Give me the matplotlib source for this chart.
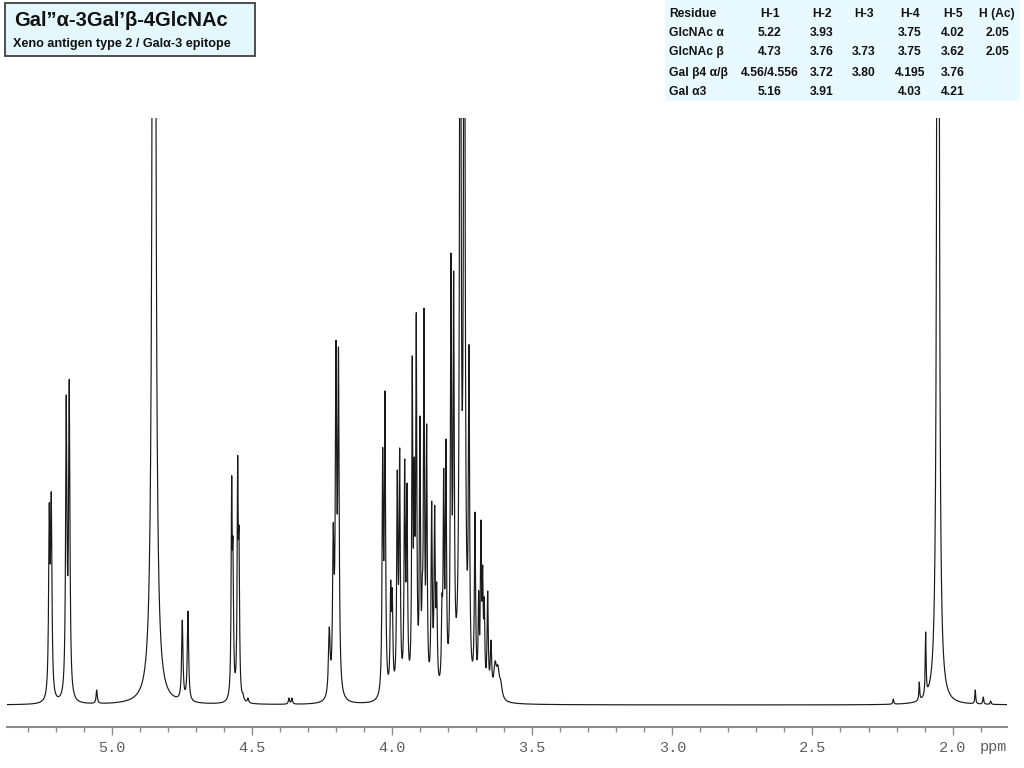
import numpy as np
import matplotlib

matplotlib.use('Agg')
import matplotlib.pyplot as plt
from matplotlib.patches import Rectangle
from matplotlib.ticker import MultipleLocator, FixedLocator

# --- peak list: position (ppm), height (px above baseline), half-width (ppm) ---
peak_ppm = [
    5.2226, 5.2155, 5.1620, 5.1513, 5.0535,
    4.8776, 4.8491, 4.8170,
    4.7481, 4.7278,
    4.5719, 4.5672, 4.5505, 4.5458, 4.5316, 4.5137,
    4.3675, 4.3568,
    4.2237, 4.2094, 4.1998, 4.1909, 4.1652,
    4.0332, 4.0250, 4.0046, 3.9989,
    3.9811, 3.9725, 3.9547, 3.9465,
    3.9276, 3.9204, 3.9133, 3.9001, 3.8919,
    3.8858, 3.8762, 3.8584, 3.8477, 3.8405,
    3.8216, 3.8156, 3.8074, 3.7895, 3.7799,
    3.7563, 3.7420, 3.7253, 3.7039,
    3.6907, 3.6825, 3.6764, 3.6707, 3.6586, 3.6468,
    3.6320, 3.6220, 3.6120,
    2.2115, 2.1188, 2.0960, 2.0520, 1.9190, 1.8905, 1.8641,
]
peak_height = [
    202, 213, 310, 326, 15,
    30, 2500, 12,
    85, 94,
    230, 168, 250, 178, 12, 7,
    7, 7,
    78, 182, 365, 358, 8,
    258, 314, 125, 117,
    236, 257, 246, 222,
    349, 248, 393, 289, 130,
    397, 281, 204, 200, 123,
    111, 238, 266, 452, 434,
    1000, 1000, 361, 193,
    115, 185, 140, 108, 114, 65,
    44, 40, 25,
    6, 23, 73, 2200, 15, 8, 4,
]
peak_width = [
    0.0028, 0.0028, 0.0028, 0.0028, 0.0025,
    0.0050, 0.0040, 0.0040,
    0.0028, 0.0028,
    0.0022, 0.0022, 0.0022, 0.0022, 0.0025, 0.0025,
    0.0025, 0.0025,
    0.0035, 0.0030, 0.0028, 0.0028, 0.0025,
    0.0025, 0.0025, 0.0025, 0.0025,
    0.0025, 0.0025, 0.0025, 0.0025,
    0.0022, 0.0022, 0.0022, 0.0022, 0.0022,
    0.0022, 0.0022, 0.0025, 0.0025, 0.0025,
    0.0025, 0.0022, 0.0022, 0.0025, 0.0025,
    0.0030, 0.0030, 0.0025, 0.0025,
    0.0022, 0.0022, 0.0022, 0.0022, 0.0025, 0.0030,
    0.0060, 0.0060, 0.0060,
    0.0020, 0.0018, 0.0018, 0.0030, 0.0018, 0.0020, 0.0020,
]

tick_values = [5.0, 4.5, 4.0, 3.5, 3.0, 2.5, 2.0]
tick_labels = ['5.0', '4.5', '4.0', '3.5', '3.0', '2.5', '2.0']

title_text = 'Gal\u201d\u03b1-3Gal\u2019\u03b2-4GlcNAc'
subtitle_text = 'Xeno antigen type 2 / Gal\u03b1-3 epitope'

table_header = ['Residue', 'H-1', 'H-2', 'H-3', 'H-4', 'H-5', 'H (Ac)']
table_rows = [
    ['GlcNAc \u03b1', '5.22', '3.93', '', '3.75', '4.02', '2.05'],
    ['GlcNAc \u03b2', '4.73', '3.76', '3.73', '3.75', '3.62', '2.05'],
    ['Gal \u03b24 \u03b1/\u03b2', '4.56/4.556', '3.72', '3.80', '4.195', '3.76', ''],
    ['Gal \u03b13', '5.16', '3.91', '', '4.03', '4.21', ''],
]

# --- build the trace: amplitudes chosen so each line tops out at its read height ---
pos = np.array(peak_ppm)
hgt = np.array(peak_height, dtype=float)
wid = np.array(peak_width)


def lorentz(x, p, w):
    return w ** 2 / (w ** 2 + (x - p) ** 2)


M = lorentz(pos[:, None], pos[None, :], wid[None, :])
amp = np.clip(np.linalg.solve(M, hgt), 0, None)

ppm = np.linspace(1.80, 5.38, 9000)
trace = (amp[None, :] * lorentz(ppm[:, None], pos[None, :], wid[None, :])).sum(axis=1)

# --- figure ---
W, H = 1024, 768
fig = plt.figure(figsize=(W / 100, H / 100), dpi=100)


def fx(px):
    return px / W


def fy(py):
    return 1 - py / H


ax_left, ax_right, ax_bottom, ax_top = 7, 1007, 726.7, 118
ax = fig.add_axes([fx(ax_left), fy(ax_bottom), fx(ax_right - ax_left), (ax_bottom - ax_top) / H])
ax.plot(ppm, trace, color='#1a1a1a', lw=0.85)
ax.set_xlim(5.3735, 1.8059)
ax.set_ylim(-21.7, 587)

for side in ['top', 'left', 'right']:
    ax.spines[side].set_visible(False)
ax.spines['bottom'].set_color('#8c8c8c')
ax.spines['bottom'].set_linewidth(1.5)
ax.set_yticks([])
ax.xaxis.set_major_locator(FixedLocator(tick_values))
ax.set_xticklabels(tick_labels)
ax.xaxis.set_minor_locator(MultipleLocator(0.1))
ax.tick_params(axis='x', which='major', direction='out', length=6, width=1, color='#8c8c8c',
               pad=4, labelsize=11, labelcolor='#606060')
ax.tick_params(axis='x', which='minor', direction='out', length=3.3, width=1, color='#8c8c8c')
for lab in ax.get_xticklabels():
    lab.set_family('Liberation Mono')

fig.text(fx(980), fy(747), 'ppm', family='Liberation Mono', fontsize=11, color='#606060',
         ha='left', va='center')

# title box
fig.patches.append(Rectangle((fx(5), fy(56)), fx(250), 53 / H, transform=fig.transFigure,
                             facecolor='#e3f7fd', edgecolor='#404040', lw=1.3))
fig.text(fx(14), fy(20), title_text, family='Liberation Sans', weight='bold', fontsize=14.5,
         color='#111111', ha='left', va='center')
fig.text(fx(13), fy(44), subtitle_text, family='Liberation Sans', weight='bold', fontsize=9.1,
         color='#111111', ha='left', va='center')

# shift table
fig.patches.append(Rectangle((fx(665), fy(101)), fx(355), 101 / H, transform=fig.transFigure,
                             facecolor='#e8faff', edgecolor='none'))
col_x = [669, 770, 822, 864, 910, 953, 997]
row_y = [14, 33, 52, 73, 92]
for j, txt in enumerate(table_header):
    fig.text(fx(col_x[j]), fy(row_y[0]), txt, family='Liberation Sans', weight='bold',
             fontsize=8.7, ha='left' if j == 0 else 'center', va='center', color='#111111')
for i, row in enumerate(table_rows):
    for j, txt in enumerate(row):
        fig.text(fx(col_x[j]), fy(row_y[i + 1]), txt, family='Liberation Sans', weight='bold',
                 fontsize=8.7, ha='left' if j == 0 else 'center', va='center', color='#111111')

fig.savefig('out.png', dpi=100)
